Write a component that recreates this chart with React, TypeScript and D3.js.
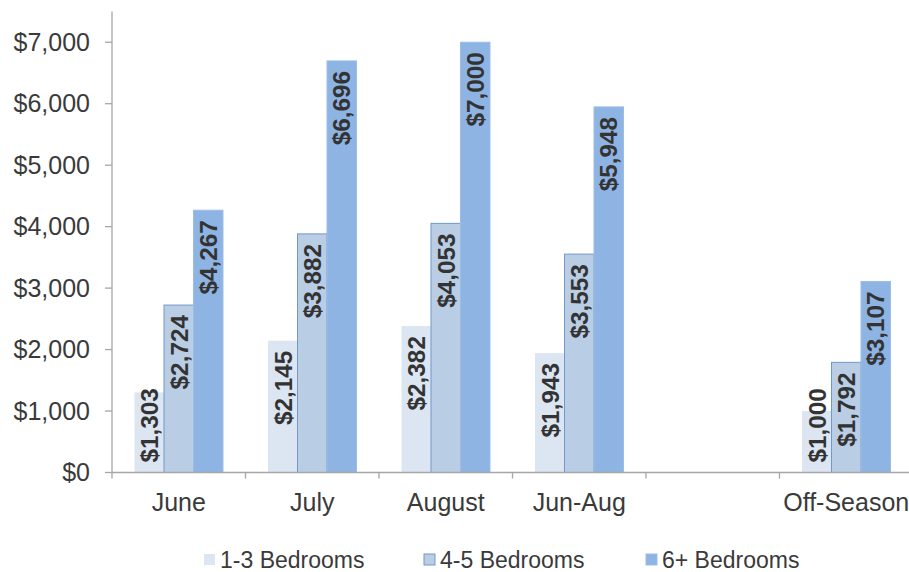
import React from "react";
import * as d3 from "d3";

const categories = ["June", "July", "August", "Jun-Aug", "", "Off-Season"];
const seriesNames = ["1-3 Bedrooms", "4-5 Bedrooms", "6+ Bedrooms"];
const small: (number | null)[] = [1303, 2145, 2382, 1943, null, 1000];
const medium: (number | null)[] = [2724, 3882, 4053, 3553, null, 1792];
const large: (number | null)[] = [4267, 6696, 7000, 5948, null, 3107];
const yTicks = [0, 1000, 2000, 3000, 4000, 5000, 6000, 7000];

const fills = ["#dce6f2", "#b9cde5", "#8eb4e3"];
const strokes = ["none", "#7397c9", "#9dbde6"];

const W = 909;
const H = 572;
const left = 112;
const right = 913;
const y0px = 472.5;
const yTop = 11.5;
const FONT = "'Liberation Sans', Arial, sans-serif";
const fmt = (v: number) => "$" + d3.format(",")(v);

export default function App() {
  const x = d3.scaleBand<string>().domain(categories.map((c, i) => String(i))).range([left, right]).padding(0);
  const inner = d3
    .scaleBand<string>()
    .domain(seriesNames)
    .range([0, x.bandwidth()])
    .paddingInner(0)
    .paddingOuter(0.763);
  const y = d3.scaleLinear().domain([0, 7500]).range([y0px, yTop]);
  const data = [small, medium, large];
  const labelFs = 24.3;
  const labelLen = labelFs * 3.06;

  const bars: React.ReactNode[] = [];
  const labels: React.ReactNode[] = [];
  categories.forEach((c, i) => {
    seriesNames.forEach((s, si) => {
      const v = data[si][i];
      if (v == null) return;
      const bx = (x(String(i)) as number) + (inner(s) as number);
      const bw = inner.bandwidth();
      const top = y(v);
      bars.push(
        <rect
          key={`b${i}-${si}`}
          x={bx}
          y={top}
          width={bw}
          height={y0px - top}
          fill={fills[si]}
          stroke={strokes[si]}
          strokeWidth={1}
        />
      );
      const endY = Math.min(top + 10, y0px - 10 - labelLen);
      const cx = bx + bw / 2;
      labels.push(
        <text
          key={`l${i}-${si}`}
          transform={`translate(${cx},${endY}) rotate(-90)`}
          textAnchor="end"
          dy="0.36em"
          fontFamily={FONT}
          fontWeight="bold"
          fontSize={labelFs}
          fill="#333333"
        >
          {fmt(v)}
        </text>
      );
    });
  });

  const boundaries = d3.range(categories.length + 1).map((i) => left + i * x.step());

  const legendX = [204, 424, 646];

  return (
    <svg
      width={W}
      height={H}
      style={{ position: "absolute", left: 0, top: 0, background: "#ffffff" }}
      fontFamily={FONT}
    >
      {bars}
      {/* y axis */}
      <line x1={left} x2={left} y1={yTop} y2={y0px} stroke="#a6a6a6" strokeWidth={1.3} />
      {yTicks.map((t) => (
        <g key={`yt${t}`}>
          <line x1={left - 7} x2={left} y1={y(t)} y2={y(t)} stroke="#a6a6a6" strokeWidth={1.3} />
          <text x={90} y={y(t)} dy="0.35em" textAnchor="end" fontSize={25} fill="#3a3a3a">
            {fmt(t)}
          </text>
        </g>
      ))}
      {/* x axis */}
      <line x1={left} x2={W} y1={y0px} y2={y0px} stroke="#a6a6a6" strokeWidth={1.3} />
      {boundaries.map((b, i) => (
        <line key={`xt${i}`} x1={b} x2={b} y1={y0px} y2={y0px + 6} stroke="#a6a6a6" strokeWidth={1.3} />
      ))}
      {categories.map((c, i) => (
        <text
          key={`xl${i}`}
          x={(x(String(i)) as number) + x.bandwidth() / 2}
          y={511}
          textAnchor="middle"
          fontSize={25}
          fill="#3a3a3a"
        >
          {c}
        </text>
      ))}
      {labels}
      {/* legend */}
      {seriesNames.map((s, si) => (
        <g key={`lg${si}`}>
          <rect
            x={legendX[si]}
            y={554}
            width={11}
            height={11}
            fill={fills[si]}
            stroke={strokes[si]}
            strokeWidth={1}
          />
          <text x={legendX[si] + 16} y={568} fontSize={23} fill="#3a3a3a">
            {s}
          </text>
        </g>
      ))}
    </svg>
  );
}
